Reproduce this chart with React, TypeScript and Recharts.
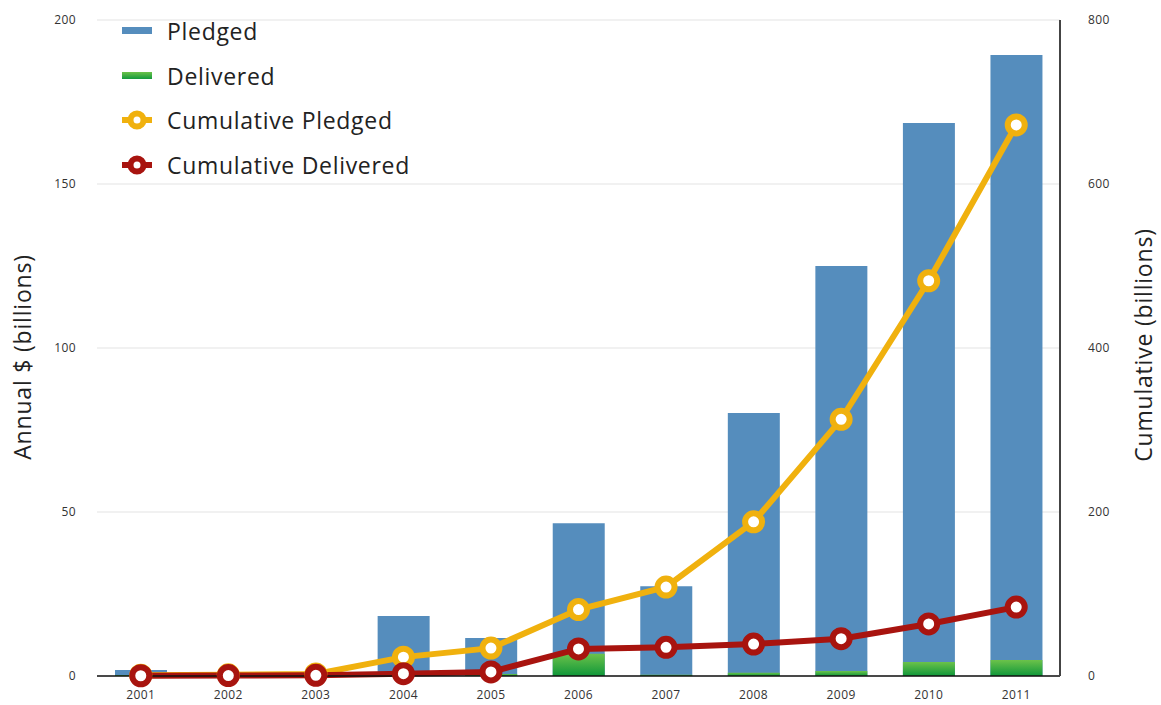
import { ComposedChart, Bar, Line, XAxis, YAxis, CartesianGrid, Legend } from 'recharts'

const years = ['2001', '2002', '2003', '2004', '2005', '2006', '2007', '2008', '2009', '2010', '2011']
const pledged = [1.8, 0.3, 0.5, 18.3, 11.6, 46.6, 27.4, 80.2, 125, 168.6, 189.3]
const delivered = [0.3, 0.1, 0.2, 0.3, 0.6, 6.8, 0.4, 1.0, 1.5, 4.3, 4.9]
const cumPledged = [1, 1.5, 2.5, 23, 34, 81, 108.5, 188, 313, 482, 672]
const cumDelivered = [0.3, 0.5, 0.8, 2.8, 5, 33, 35, 39, 45.5, 63.5, 84]
const leftTicks = [0, 50, 100, 150, 200]
const rightTicks = [0, 200, 400, 600, 800]

const BLUE = '#558dbd'
const YELLOW = '#f0b10e'
const RED = '#a8140f'
const FONT = '"Open Sans", sans-serif'
const BAR_SIZE = 52

const data = years.map((year, i) => ({
  year,
  pledged: pledged[i],
  delivered: delivered[i],
  cumPledged: cumPledged[i],
  cumDelivered: cumDelivered[i],
}))

const legendItems = [
  { label: 'Pledged', kind: 'bar', color: BLUE },
  { label: 'Delivered', kind: 'bar', color: 'url(#greenLegend)' },
  { label: 'Cumulative Pledged', kind: 'line', color: YELLOW },
  { label: 'Cumulative Delivered', kind: 'line', color: RED },
]

function LegendBox() {
  return (
    <div style={{ fontFamily: FONT }}>
      {legendItems.map((item) => (
        <div key={item.label} style={{ display: 'flex', alignItems: 'center', height: 44.5 }}>
          <svg width={36} height={24} style={{ marginRight: 12 }}>
            <defs>
              <linearGradient id="greenLegend" x1="0" y1="0" x2="0" y2="1">
                <stop offset="0%" stopColor="#6cc24a" />
                <stop offset="100%" stopColor="#13993c" />
              </linearGradient>
            </defs>
            {item.kind === 'bar' ? (
              <rect x={3} y={8} width={30} height={7} fill={item.color} />
            ) : (
              <g>
                <line x1={3} x2={33} y1={12} y2={12} stroke={item.color} strokeWidth={6} />
                <circle cx={18} cy={12} r={6.5} fill="#fff" stroke={item.color} strokeWidth={6} />
              </g>
            )}
          </svg>
          <span style={{ fontSize: 23, letterSpacing: 0.7, color: '#222' }}>{item.label}</span>
        </div>
      ))}
    </div>
  )
}

export default function App() {
  const tick = { fontSize: 12, fill: '#333', fontFamily: FONT, letterSpacing: 0.4 }
  const titleStyle = { fontSize: 23, fill: '#222', fontFamily: FONT, letterSpacing: 0.8 }
  return (
    <div style={{ position: 'absolute', left: 0, top: 0, background: '#fff' }}>
      <ComposedChart
        width={1161}
        height={705}
        data={data}
        barGap={-BAR_SIZE}
        margin={{ top: 20, right: 0, bottom: 0, left: 0 }}
      >
        <defs>
          <linearGradient id="greenBar" x1="0" y1="0" x2="0" y2="1">
            <stop offset="0%" stopColor="#6cc24a" />
            <stop offset="100%" stopColor="#0f973a" />
          </linearGradient>
        </defs>
        <CartesianGrid vertical={false} stroke="#e3e3e3" yAxisId="left" />
        <XAxis
          dataKey="year"
          height={29}
          tick={tick}
          tickLine={false}
          tickMargin={8}
          axisLine={{ stroke: '#111', strokeWidth: 1.5 }}
        />
        <YAxis
          yAxisId="left"
          width={97}
          domain={[0, 200]}
          ticks={leftTicks}
          tick={tick}
          tickLine={false}
          tickMargin={15}
          axisLine={false}
          label={{
            value: 'Annual $ (billions)',
            angle: -90,
            position: 'center',
            dx: -26,
            dy: 9,
            style: titleStyle,
          }}
        />
        <YAxis
          yAxisId="right"
          orientation="right"
          width={101}
          domain={[0, 800]}
          ticks={rightTicks}
          tick={{ ...tick, textAnchor: 'start' }}
          tickLine={false}
          tickMargin={22}
          axisLine={{ stroke: '#444', strokeWidth: 2 }}
          label={{
            value: 'Cumulative (billions)',
            angle: -90,
            position: 'center',
            dx: 33,
            dy: -3,
            style: titleStyle,
          }}
        />
        <Legend
          layout="vertical"
          align="center"
          verticalAlign="middle"
          content={() => <LegendBox />}
          wrapperStyle={{ position: 'absolute', top: 9, left: 119, width: 'auto', height: 'auto' }}
        />
        <Bar yAxisId="left" dataKey="pledged" fill={BLUE} barSize={BAR_SIZE} isAnimationActive={false} />
        <Bar yAxisId="left" dataKey="delivered" fill="url(#greenBar)" barSize={BAR_SIZE} isAnimationActive={false} />
        <Line
          yAxisId="right"
          dataKey="cumPledged"
          stroke={YELLOW}
          strokeWidth={6}
          dot={{ r: 8.5, fill: '#fff', stroke: YELLOW, strokeWidth: 6 }}
          activeDot={false}
          isAnimationActive={false}
        />
        <Line
          yAxisId="right"
          dataKey="cumDelivered"
          stroke={RED}
          strokeWidth={6}
          dot={{ r: 8.5, fill: '#fff', stroke: RED, strokeWidth: 6 }}
          activeDot={false}
          isAnimationActive={false}
        />
      </ComposedChart>
    </div>
  )
}
